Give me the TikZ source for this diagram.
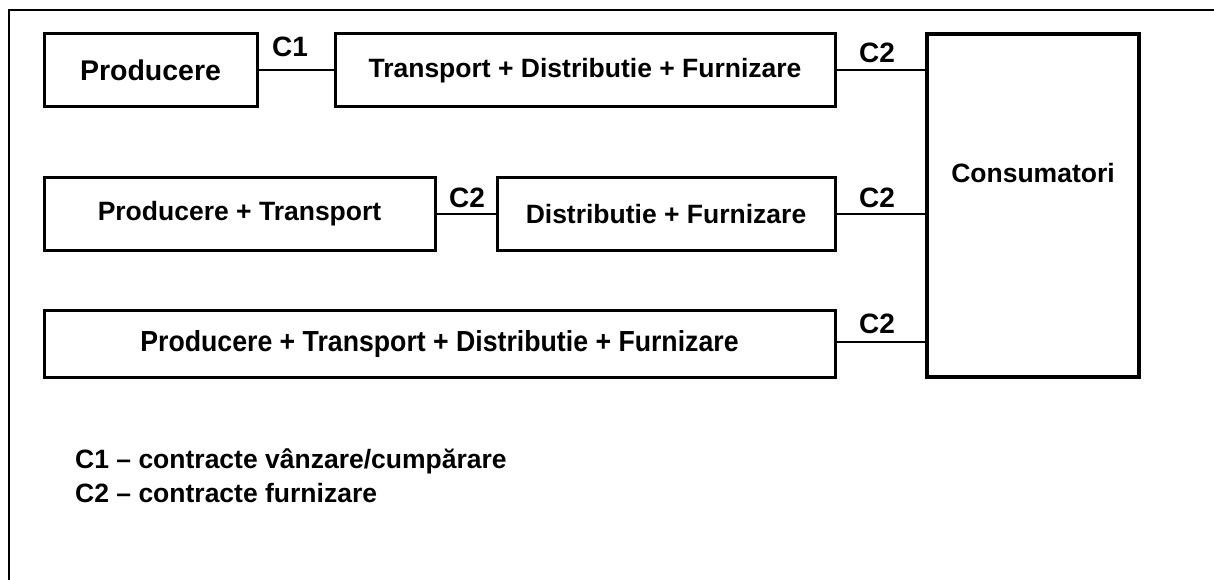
\documentclass[tikz,border=0pt]{standalone}
\usepackage{fontspec}
\setmainfont{Liberation Sans}
\begin{document}
\begin{tikzpicture}[x=1pt,y=-1pt,
  box/.style={draw,line width=3pt,inner sep=0pt,font=\bfseries\fontsize{26.5}{30}\selectfont},
  bigbox/.style={draw,line width=4pt,inner sep=0pt},
  conn/.style={line width=2pt},
  lbl/.style={anchor=base,inner sep=0pt,font=\bfseries\fontsize{28}{32}\selectfont},
  txt/.style={inner sep=0pt,font=\bfseries\fontsize{26.5}{30}\selectfont},
  legend/.style={anchor=base west,inner sep=0pt,font=\bfseries\fontsize{26.5}{30}\selectfont}]
\useasboundingbox (0,0) rectangle (1214,580);
\fill[white] (0,0) rectangle (1214,580);
% frame
\draw[line width=1.5pt] (9,580) -- (9,10) -- (1214,10);
% boxes
\node[box,minimum width=213pt,minimum height=73pt,font=\bfseries\fontsize{28.5}{32}\selectfont] (A) at (150.5,70.5) {Producere};
\node[box,minimum width=500pt,minimum height=73pt] (B) at (585,70.5) {Transport + Distributie + Furnizare};
\node[bigbox,minimum width=212pt,minimum height=343pt] (Cons) at (1033,205.5) {};
\node[txt] (ConsT) at (1033,173) {Consumatori};
\node[box,minimum width=391pt,minimum height=72pt] (D) at (239.5,214) {Producere + Transport};
\node[box,minimum width=338pt,minimum height=72pt] (E) at (666,214) {Distributie + Furnizare};
\node[box,minimum width=791pt,minimum height=67pt,font=\bfseries\fontsize{29}{32}\selectfont] (F) at (439.5,343.5) {\scalebox{0.92}[1]{Producere + Transport + Distributie + Furnizare}};
% connectors
\draw[conn] (A.east) -- (B.west);
\draw[conn] (B.east) -- (B.east -| Cons.west);
\draw[conn] (D.east) -- (E.west);
\draw[conn] (E.east) -- (E.east -| Cons.west);
\draw[conn] ([yshift=2pt]F.east) -- ([yshift=2pt]F.east -| Cons.west);
% labels
\node[lbl] (l1) at (290,57) {C1};
\node[lbl] (l2) at (877,63) {C2};
\node[lbl] (l3) at (467,207) {C2};
\node[lbl] (l4) at (877,207) {C2};
\node[lbl] (l5) at (877,333) {C2};
% legend
\node[legend] (leg1) at (75,468) {C1 – contracte vânzare/cumpărare};
\node[legend] (leg2) at (75,502) {C2 – contracte furnizare};
\end{tikzpicture}
\end{document}
